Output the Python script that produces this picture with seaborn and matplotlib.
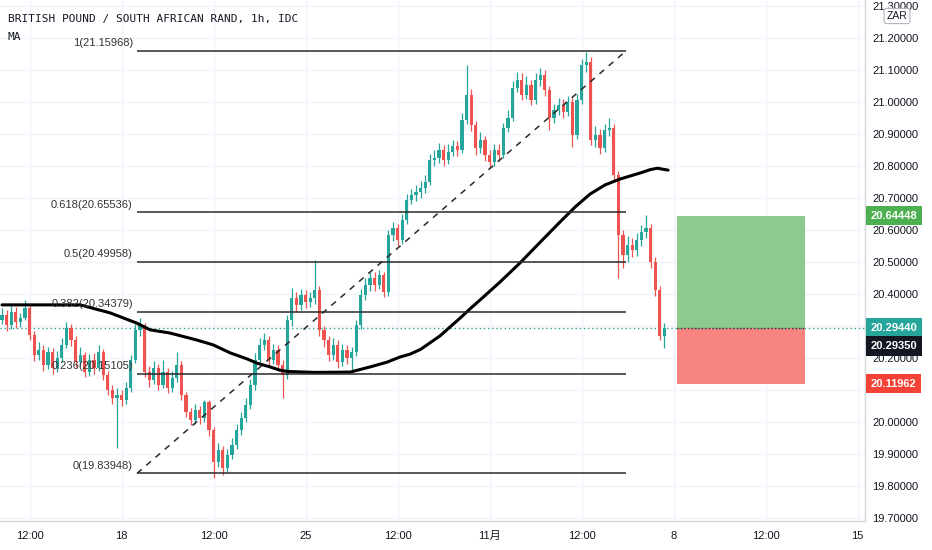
import numpy as np
import pandas as pd
import matplotlib
matplotlib.use('Agg')
import matplotlib.pyplot as plt
import matplotlib.transforms as mtransforms
from matplotlib.patches import Rectangle
import seaborn as sns

# ---- data (3h candles) ----
first_open = 20.320
closes = [
    20.334, 20.303, 20.344, 20.312, 20.325, 20.356, 20.272, 20.209, 20.225, 20.178,
    20.219, 20.169, 20.200, 20.241, 20.294, 20.256, 20.188, 20.209, 20.156, 20.194,
    20.169, 20.219, 20.147, 20.100, 20.075, 20.084, 20.069, 20.106, 20.194, 20.288,
    20.303, 20.156, 20.131, 20.169, 20.116, 20.156, 20.106, 20.137, 20.178, 20.084,
    20.031, 20.006, 20.037, 20.012, 20.062, 19.975, 19.875, 19.912, 19.856, 19.897,
    19.928, 19.975, 20.012, 20.053, 20.116, 20.194, 20.241, 20.256, 20.194, 20.225,
    20.178, 20.147, 20.319, 20.387, 20.366, 20.397, 20.375, 20.387, 20.412, 20.288,
    20.256, 20.209, 20.241, 20.188, 20.225, 20.200, 20.219, 20.303, 20.397, 20.428,
    20.450, 20.428, 20.459, 20.406, 20.584, 20.606, 20.569, 20.631, 20.694, 20.709,
    20.719, 20.731, 20.750, 20.819, 20.825, 20.850, 20.819, 20.844, 20.862, 20.850,
    20.944, 21.022, 20.928, 20.856, 20.881, 20.834, 20.812, 20.850, 20.834, 20.919,
    20.950, 21.044, 21.069, 21.022, 21.053, 21.006, 21.069, 21.084, 21.037, 20.950,
    20.975, 20.991, 20.969, 21.000, 20.897, 21.006, 21.116, 21.125, 20.881, 20.897,
    20.856, 20.912, 20.919, 20.772, 20.584, 20.522, 20.553, 20.537, 20.569, 20.594,
    20.606, 20.500, 20.412, 20.270, 20.2935]
highs = [
    20.355, 20.350, 20.362, 20.360, 20.340, 20.381, 20.365, 20.285, 20.250, 20.240,
    20.235, 20.232, 20.222, 20.262, 20.312, 20.305, 20.268, 20.235, 20.220, 20.212,
    20.215, 20.240, 20.228, 20.160, 20.115, 20.105, 20.100, 20.125, 20.210, 20.305,
    20.325, 20.310, 20.175, 20.190, 20.180, 20.194, 20.170, 20.160, 20.219, 20.190,
    20.095, 20.045, 20.055, 20.050, 20.069, 20.070, 19.985, 19.935, 19.925, 19.915,
    19.950, 19.995, 20.030, 20.075, 20.135, 20.215, 20.262, 20.278, 20.268, 20.245,
    20.240, 20.195, 20.335, 20.419, 20.405, 20.415, 20.412, 20.405, 20.506, 20.425,
    20.300, 20.270, 20.262, 20.255, 20.245, 20.240, 20.235, 20.320, 20.415, 20.450,
    20.470, 20.468, 20.475, 20.470, 20.600, 20.625, 20.620, 20.650, 20.712, 20.728,
    20.740, 20.752, 20.772, 20.838, 20.850, 20.872, 20.865, 20.868, 20.882, 20.878,
    20.965, 21.116, 21.040, 20.940, 20.905, 20.895, 20.850, 20.870, 20.868, 20.935,
    20.975, 21.065, 21.095, 21.090, 21.080, 21.070, 21.090, 21.105, 21.100, 21.050,
    20.995, 21.012, 21.010, 21.020, 21.012, 21.025, 21.135, 21.156, 21.140, 20.925,
    20.915, 20.932, 20.950, 20.930, 20.785, 20.600, 20.580, 20.575, 20.590, 20.615,
    20.647, 20.620, 20.515, 20.425, 20.310]
lows = [
    20.305, 20.285, 20.290, 20.295, 20.298, 20.318, 20.255, 20.190, 20.195, 20.160,
    20.165, 20.150, 20.155, 20.188, 20.230, 20.238, 20.172, 20.175, 20.140, 20.145,
    20.150, 20.160, 20.130, 20.085, 20.055, 19.919, 20.050, 20.055, 20.095, 20.185,
    20.270, 20.140, 20.110, 20.120, 20.100, 20.105, 20.090, 20.095, 20.125, 20.070,
    20.015, 19.990, 19.995, 19.995, 20.000, 19.955, 19.825, 19.860, 19.834, 19.845,
    19.885, 19.915, 19.960, 20.000, 20.040, 20.100, 20.180, 20.225, 20.175, 20.180,
    20.160, 20.075, 20.135, 20.300, 20.345, 20.350, 20.355, 20.360, 20.370, 20.270,
    20.235, 20.190, 20.195, 20.170, 20.175, 20.180, 20.156, 20.205, 20.290, 20.380,
    20.410, 20.410, 20.415, 20.390, 20.395, 20.565, 20.550, 20.555, 20.620, 20.680,
    20.690, 20.700, 20.715, 20.740, 20.800, 20.810, 20.800, 20.805, 20.830, 20.832,
    20.840, 20.930, 20.910, 20.835, 20.840, 20.815, 20.794, 20.800, 20.815, 20.825,
    20.905, 20.940, 21.030, 21.005, 21.010, 20.990, 20.995, 21.050, 21.020, 20.912,
    20.935, 20.960, 20.950, 20.955, 20.859, 20.885, 20.995, 21.095, 20.865, 20.860,
    20.838, 20.845, 20.895, 20.755, 20.450, 20.480, 20.500, 20.515, 20.520, 20.550,
    20.575, 20.480, 20.395, 20.255, 20.231]

# moving average, sampled along the bar index
ma_bars = [0, 10, 17, 23.5, 29.3, 32.2, 36.5, 42.4, 45.9, 49.6, 53.3, 55.4, 58.3, 60.4,
           62, 68, 75.7, 80, 83.7, 86.5, 88.7, 91, 93, 95.2, 97.4, 99.6, 101.7, 103.9,
           108.3, 112.6, 117, 121.3, 124.6, 127.8, 131.1, 134.3, 138.7, 141, 142.5, 144.8]
ma_values = [20.366, 20.366, 20.366, 20.341, 20.309, 20.288, 20.278, 20.256, 20.241,
             20.216, 20.197, 20.184, 20.172, 20.162, 20.158, 20.155, 20.156, 20.172,
             20.187, 20.203, 20.212, 20.227, 20.247, 20.269, 20.297, 20.325, 20.353,
             20.381, 20.438, 20.497, 20.562, 20.625, 20.672, 20.712, 20.741, 20.759,
             20.778, 20.789, 20.793, 20.787]

# fibonacci retracement
fib_ratios = ['1', '0.618', '0.5', '0.382', '0.236', '0']
fib_prices = [21.15968, 20.65536, 20.49958, 20.34379, 20.15105, 19.83948]
fib_start, fib_end = 29.35, 135.65

# long position tool
entry_price = 20.29440
target_price = 20.64448
stop_price = 20.11962
last_price = 20.29350
pos_start, pos_end = 146.7, 174.6

tick_bars = [6, 26, 46, 66, 86, 106, 126, 146, 166, 186]
tick_labels = ['12:00', '18', '12:00', '25', '12:00', '11月', '12:00', '8', '12:00', '15']
price_ticks = [19.7, 19.8, 19.9, 20.0, 20.1, 20.2, 20.3, 20.4, 20.5, 20.6,
               20.7, 20.8, 20.9, 21.0, 21.1, 21.2, 21.3]
# scale labels that sit under the price badges
hidden_ticks = [20.1, 20.3]

UP = '#26a69a'
DOWN = '#ef5350'
TXT = '#131722'

sns.set_theme(style='white')
plt.rcParams['font.family'] = ['Liberation Sans', 'Noto Sans CJK JP', 'DejaVu Sans']

opens = [first_open] + closes[:-1]
df = pd.DataFrame({'open': opens, 'high': highs, 'low': lows, 'close': closes})
df['bar'] = np.arange(len(df))
colors = np.where(df['close'] >= df['open'], UP, DOWN)

fig = plt.figure(figsize=(9.32, 5.5), dpi=100)
ax = fig.add_axes([0, 29 / 550, 865 / 932, 521 / 550])

# grid
for t in tick_bars:
    ax.axvline(t, color='#f0f3fa', lw=1, zorder=0)
for p in price_ticks:
    ax.axhline(p, color='#f0f3fa', lw=1, zorder=0)

# candles
ax.vlines(df['bar'], df['low'], df['high'], colors=colors, lw=0.9, zorder=2)
ax.bar(df['bar'], (df['close'] - df['open']).abs(), bottom=np.minimum(df['open'], df['close']),
       width=0.68, color=colors, linewidth=0, zorder=2)

# moving average
sns.lineplot(x=ma_bars, y=ma_values, color='black', lw=2.2, ax=ax, zorder=3)

# fibonacci
ax.hlines(fib_prices, fib_start, fib_end, color='#2a2a2a', lw=1.1, zorder=3)
ax.plot([fib_start, fib_end], [fib_prices[-1], fib_prices[0]], color='#2a2a2a',
        lw=1.1, ls=(0, (4, 4)), zorder=3)
for r, p in zip(fib_ratios, fib_prices):
    ax.annotate(f'{r}({p:.5f})', (fib_start, p), xytext=(-3, 5.5), textcoords='offset points',
                ha='right', va='center', fontsize=8, color='#333333', zorder=4)

# position box
ax.add_patch(Rectangle((pos_start, entry_price), pos_end - pos_start, target_price - entry_price,
                       facecolor='#8cca8e', edgecolor='none', zorder=1))
ax.add_patch(Rectangle((pos_start, stop_price), pos_end - pos_start, entry_price - stop_price,
                       facecolor='#f7847e', edgecolor='none', zorder=1))
ax.hlines(entry_price, pos_start, pos_end, color='#333333', lw=1, ls=(0, (1, 1.5)), zorder=2)
ax.axhline(entry_price, color=UP, lw=1, ls=(0, (1, 2)), zorder=1)

# axes
ax.set_xlim(-0.435, 187.6)
ax.set_ylim(19.6906, 21.31875)
ax.set_xticks(tick_bars)
ax.set_xticklabels(tick_labels)
ax.set_yticks(price_ticks)
ax.set_yticklabels(['' if p in hidden_ticks else f'{p:.5f}' for p in price_ticks])
ax.yaxis.tick_right()
ax.tick_params(axis='y', length=0, pad=5, labelsize=8, labelcolor=TXT)
ax.tick_params(axis='x', length=0, pad=7, labelsize=8, labelcolor=TXT)
for s in ['top', 'left']:
    ax.spines[s].set_visible(False)
for s in ['right', 'bottom']:
    ax.spines[s].set_color('#d6d8de')
    ax.spines[s].set_linewidth(1)
ax.set_xlabel('')
ax.set_ylabel('')

# price badges on the right scale
trans = mtransforms.blended_transform_factory(ax.transAxes, ax.transData)
badges = [(target_price, '#4caf50', 0), (entry_price, UP, 0),
          (last_price, TXT, -13), (stop_price, '#f44336', 0)]
for p, c, dy in badges:
    ax.annotate(f'{p:.5f}', (1.0, p), xycoords=trans, xytext=(4, dy), textcoords='offset points',
                ha='left', va='center', fontsize=8, fontweight='bold', color='white',
                bbox=dict(boxstyle='square,pad=0.42', fc=c, ec='none'),
                annotation_clip=False, zorder=6)

fig.text(897 / 932, 1 - 16 / 550, 'ZAR', ha='center', va='center', fontsize=7.5, color=TXT,
         bbox=dict(boxstyle='round,pad=0.25', fc='white', ec='#b2b5be', lw=0.8))

# header
fig.text(8 / 932, 1 - 19 / 550, 'BRITISH POUND / SOUTH AFRICAN RAND, 1h, IDC', ha='left',
         va='center', fontsize=8, color=TXT, family='DejaVu Sans Mono')
fig.text(8 / 932, 1 - 37 / 550, 'MA', ha='left', va='center', fontsize=8, color=TXT,
         family='DejaVu Sans Mono')

fig.savefig('out.png', dpi=100)
plt.close(fig)
